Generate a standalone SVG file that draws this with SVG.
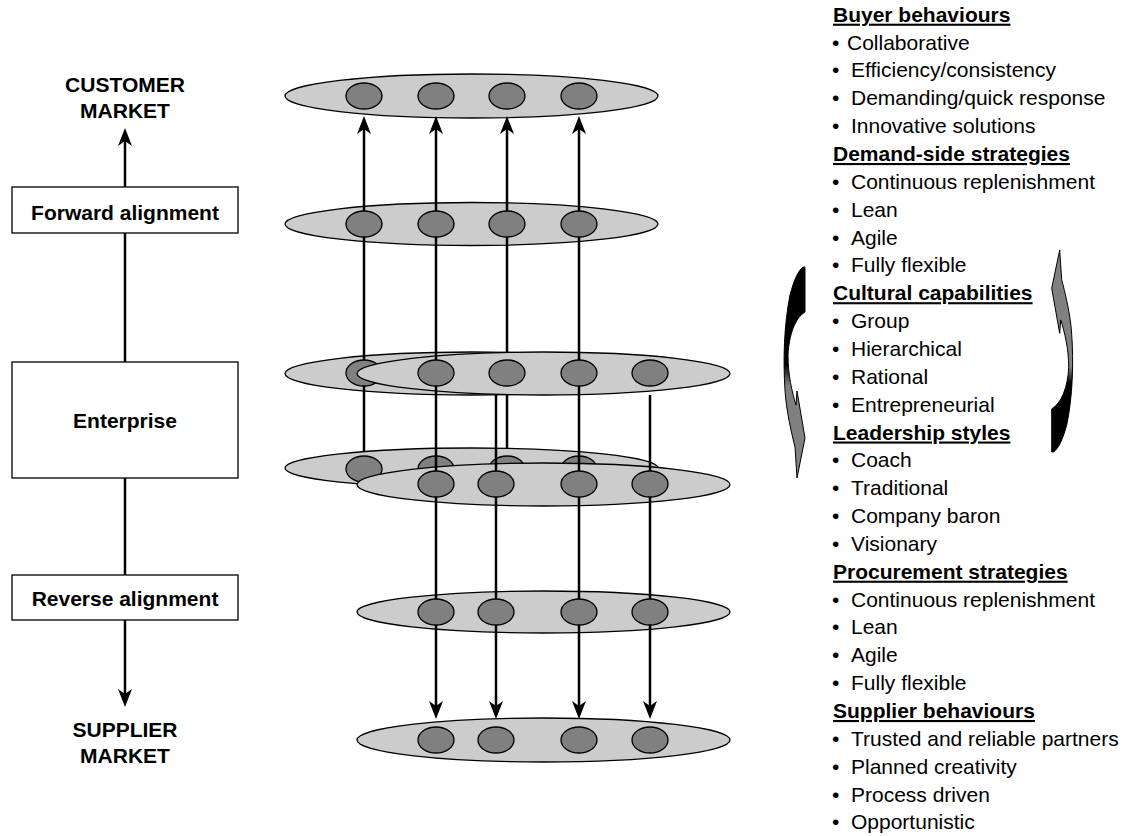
<svg xmlns="http://www.w3.org/2000/svg" width="1129" height="836" viewBox="0 0 1129 836">
<style>
  .lbl{font-family:"Liberation Sans",Arial,sans-serif;font-size:21px;font-weight:bold;fill:#000;text-anchor:middle}
  .box{fill:#fff;stroke:#000;stroke-width:1.3}
  .layer{fill:#cccccc;stroke:#000;stroke-width:1.3}
  .dot{fill:#808080;stroke:#000;stroke-width:1.3}
  .conn{fill:none;stroke:#000;stroke-width:2.5}
  .arr{marker-end:url(#ah)}
  .list{font-family:"Liberation Sans",Arial,sans-serif;font-size:21px;fill:#000}
  .hd{font-weight:bold;text-decoration:underline}
  .curve{stroke:#000;stroke-width:1}
</style>
<defs>
  <marker id="ah" markerUnits="userSpaceOnUse" viewBox="-10 -10 22 20" refX="0" refY="0" markerWidth="22" markerHeight="20" orient="auto">
    <path d="M10,0 L-8,-7 L-3,0 L-8,7 Z" fill="#000"/>
  </marker>
  <linearGradient id="gDown" x1="0" y1="0" x2="0" y2="1">
    <stop offset="0" stop-color="#000"/><stop offset="0.46" stop-color="#000"/>
    <stop offset="0.56" stop-color="#808080"/><stop offset="1" stop-color="#808080"/>
  </linearGradient>
  <linearGradient id="gUp" x1="0" y1="0" x2="0" y2="1">
    <stop offset="0" stop-color="#808080"/><stop offset="0.58" stop-color="#808080"/>
    <stop offset="0.66" stop-color="#000"/><stop offset="1" stop-color="#000"/>
  </linearGradient>
</defs>
<rect width="1129" height="836" fill="#fff"/>

<!-- left column nodes -->
<g id="customer-market"><text class="lbl" x="125" y="92">CUSTOMER</text><text class="lbl" x="125" y="118">MARKET</text></g>
<g id="forward-alignment"><rect class="box" x="12" y="187" width="226" height="46"/><text class="lbl" x="125" y="220">Forward alignment</text></g>
<g id="enterprise"><rect class="box" x="12" y="362" width="226" height="116"/><text class="lbl" x="125" y="428">Enterprise</text></g>
<g id="reverse-alignment"><rect class="box" x="12" y="575" width="226" height="45"/><text class="lbl" x="125" y="606">Reverse alignment</text></g>
<g id="supplier-market"><text class="lbl" x="125" y="737">SUPPLIER</text><text class="lbl" x="125" y="763">MARKET</text></g>

<!-- layered ellipses -->
<g id="layer-customer"><ellipse class="layer" cx="471.5" cy="96" rx="186.5" ry="22"/>
  <ellipse class="dot" cx="364" cy="96" rx="18" ry="13"/><ellipse class="dot" cx="436" cy="96" rx="18" ry="13"/><ellipse class="dot" cx="507" cy="96" rx="18" ry="13"/><ellipse class="dot" cx="579" cy="96" rx="18" ry="13"/></g>
<g id="layer-forward"><ellipse class="layer" cx="471.5" cy="224" rx="186.5" ry="21.5"/>
  <ellipse class="dot" cx="364" cy="224" rx="18" ry="13"/><ellipse class="dot" cx="436" cy="224" rx="18" ry="13"/><ellipse class="dot" cx="507" cy="224" rx="18" ry="13"/><ellipse class="dot" cx="579" cy="224" rx="18" ry="13"/></g>
<g id="layer-enterprise-a1"><ellipse class="layer" cx="471.5" cy="373.5" rx="186.5" ry="21.5"/>
  <ellipse class="dot" cx="364" cy="373" rx="18" ry="13"/><ellipse class="dot" cx="436" cy="373" rx="18" ry="13"/><ellipse class="dot" cx="507" cy="373" rx="18" ry="13"/><ellipse class="dot" cx="579" cy="373" rx="18" ry="13"/></g>
<g id="layer-enterprise-a2"><ellipse class="layer" cx="471.5" cy="468" rx="186.5" ry="20"/>
  <ellipse class="dot" cx="364" cy="469" rx="18" ry="13"/><ellipse class="dot" cx="436" cy="469" rx="18" ry="13"/><ellipse class="dot" cx="507" cy="469" rx="18" ry="13"/><ellipse class="dot" cx="579" cy="469" rx="18" ry="13"/></g>
<g id="layer-enterprise-b1"><ellipse class="layer" cx="543.5" cy="373.5" rx="186.5" ry="21.5"/>
  <ellipse class="dot" cx="436" cy="373" rx="18" ry="13"/><ellipse class="dot" cx="507" cy="373" rx="18" ry="13"/><ellipse class="dot" cx="579" cy="373" rx="18" ry="13"/><ellipse class="dot" cx="650" cy="373" rx="18" ry="13"/></g>
<g id="layer-enterprise-b2"><ellipse class="layer" cx="543.5" cy="484.5" rx="186.5" ry="21.5"/>
  <ellipse class="dot" cx="436" cy="484" rx="18" ry="13"/><ellipse class="dot" cx="496" cy="484" rx="18" ry="13"/><ellipse class="dot" cx="579" cy="484" rx="18" ry="13"/><ellipse class="dot" cx="650" cy="484" rx="18" ry="13"/></g>
<g id="layer-reverse"><ellipse class="layer" cx="543.5" cy="612" rx="186.5" ry="21"/>
  <ellipse class="dot" cx="436" cy="612" rx="18" ry="13"/><ellipse class="dot" cx="496" cy="612" rx="18" ry="13"/><ellipse class="dot" cx="579" cy="612" rx="18" ry="13"/><ellipse class="dot" cx="650" cy="612" rx="18" ry="13"/></g>
<g id="layer-supplier"><ellipse class="layer" cx="543.5" cy="740" rx="186.5" ry="22"/>
  <ellipse class="dot" cx="436" cy="740" rx="18" ry="13"/><ellipse class="dot" cx="496" cy="740" rx="18" ry="13"/><ellipse class="dot" cx="579" cy="740" rx="18" ry="13"/><ellipse class="dot" cx="650" cy="740" rx="18" ry="13"/></g>

<!-- connectors -->
<g id="connectors">
  <path class="conn arr" d="M125,187 L125,138"/>
  <path class="conn" d="M125,233 L125,362"/>
  <path class="conn" d="M125,478 L125,575"/>
  <path class="conn arr" d="M125,620 L125,697"/>
  <path class="conn arr" d="M364,452 L364,386 M364,360 L364,237 M364,211 L364,126"/>
  <path class="conn arr" d="M436,360 L436,237 M436,211 L436,126"/>
  <path class="conn arr" d="M507,449 L507,395 M507,352 L507,237 M507,211 L507,126"/>
  <path class="conn arr" d="M579,360 L579,237 M579,211 L579,126"/>
  <path class="conn arr" d="M436,386 L436,471 M436,497 L436,599 M436,625 L436,709"/>
  <path class="conn arr" d="M496,395 L496,471 M496,497 L496,599 M496,625 L496,709"/>
  <path class="conn arr" d="M579,386 L579,471 M579,497 L579,599 M579,625 L579,709"/>
  <path class="conn arr" d="M650,395 L650,471 M650,497 L650,599 M650,625 L650,709"/>
</g>

<!-- curved arrows -->
<g id="curved-arrows">
  <path class="curve" fill="url(#gDown)" d="M803,267 L805,267 L805,312 C795,318 789,335 788,355 C788,375 792,392 796,405 L797,391 L805,438 L797,478 L795,447 C792,435 786,410 785,390 C783,360 784,325 790,295 C794,280 798,271 803,267 Z"/>
  <path class="curve" fill="url(#gUp)" d="M1053.7,451.9 L1051.7,451.9 L1051.7,408.9 C1061.7,403.1 1067.7,386.9 1068.7,367.7 C1068.7,348.6 1064.7,332.3 1060.7,319.9 L1059.7,333.3 L1051.7,288.3 L1059.7,250 L1061.7,279.7 C1064.7,291.2 1070.7,315.1 1071.7,334.2 C1073.7,362.9 1072.7,396.4 1066.7,425.1 C1062.7,439.5 1058.7,448.1 1053.7,451.9 Z"/>
</g>

<!-- right-hand list -->
<g id="list" class="list">
  <text class="hd" x="833" y="21.7">Buyer behaviours</text>
  <text y="49.6"><tspan x="832">•</tspan><tspan x="847">Collaborative</tspan></text>
  <text y="77.4"><tspan x="832">•</tspan><tspan x="851">Efficiency/consistency</tspan></text>
  <text y="105.3"><tspan x="832">•</tspan><tspan x="851">Demanding/quick response</tspan></text>
  <text y="133.1"><tspan x="832">•</tspan><tspan x="851">Innovative solutions</tspan></text>
  <text class="hd" x="833" y="161">Demand-side strategies</text>
  <text y="188.8"><tspan x="832">•</tspan><tspan x="851">Continuous replenishment</tspan></text>
  <text y="216.7"><tspan x="832">•</tspan><tspan x="851">Lean</tspan></text>
  <text y="244.5"><tspan x="832">•</tspan><tspan x="851">Agile</tspan></text>
  <text y="272.4"><tspan x="832">•</tspan><tspan x="851">Fully flexible</tspan></text>
  <text class="hd" x="833" y="300.2">Cultural capabilities</text>
  <text y="328.1"><tspan x="832">•</tspan><tspan x="851">Group</tspan></text>
  <text y="355.9"><tspan x="832">•</tspan><tspan x="851">Hierarchical</tspan></text>
  <text y="383.8"><tspan x="832">•</tspan><tspan x="851">Rational</tspan></text>
  <text y="411.6"><tspan x="832">•</tspan><tspan x="851">Entrepreneurial</tspan></text>
  <text class="hd" x="833" y="439.5">Leadership styles</text>
  <text y="467.3"><tspan x="832">•</tspan><tspan x="851">Coach</tspan></text>
  <text y="495.2"><tspan x="832">•</tspan><tspan x="851">Traditional</tspan></text>
  <text y="523"><tspan x="832">•</tspan><tspan x="851">Company baron</tspan></text>
  <text y="550.9"><tspan x="832">•</tspan><tspan x="851">Visionary</tspan></text>
  <text class="hd" x="833" y="578.7">Procurement strategies</text>
  <text y="606.6"><tspan x="832">•</tspan><tspan x="851">Continuous replenishment</tspan></text>
  <text y="634.4"><tspan x="832">•</tspan><tspan x="851">Lean</tspan></text>
  <text y="662.3"><tspan x="832">•</tspan><tspan x="851">Agile</tspan></text>
  <text y="690.1"><tspan x="832">•</tspan><tspan x="851">Fully flexible</tspan></text>
  <text class="hd" x="833" y="718">Supplier behaviours</text>
  <text y="745.8"><tspan x="832">•</tspan><tspan x="851">Trusted and reliable partners</tspan></text>
  <text y="773.7"><tspan x="832">•</tspan><tspan x="851">Planned creativity</tspan></text>
  <text y="801.5"><tspan x="832">•</tspan><tspan x="851">Process driven</tspan></text>
  <text y="829.4"><tspan x="832">•</tspan><tspan x="851">Opportunistic</tspan></text>
</g>
</svg>
